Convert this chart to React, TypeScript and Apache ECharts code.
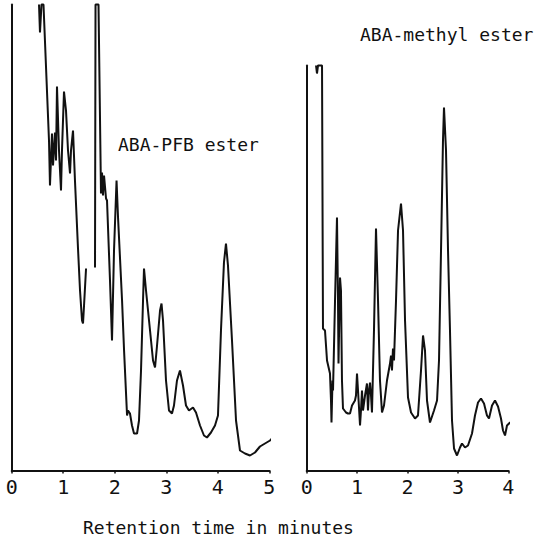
import React, { useEffect, useRef } from "react";
import * as echarts from "echarts";

// Left chromatogram: ABA-PFB ester (retention time in min, detector signal in arbitrary units; 466 = off-scale)
const leftTime: (number | null)[] = [
  0.53, 0.549, 0.578, 0.617, 0.627, 0.724, 0.743, 0.782, 0.802, 0.84, 0.86, 0.879, 0.918, 0.957, 0.976,
  1.015, 1.054, 1.093, 1.132, 1.151, 1.19, 1.228, 1.287, 1.326, 1.365, 1.384, 1.404, 1.443,
  1.53,
  1.617, 1.627, 1.685, 1.733, 1.753, 1.772, 1.792, 1.831, 1.85, 1.908, 1.947, 1.986, 2.035, 2.064,
  2.142, 2.181, 2.239, 2.258, 2.296, 2.335, 2.374, 2.433, 2.471, 2.51, 2.549, 2.568, 2.607, 2.685,
  2.743, 2.782, 2.821, 2.879, 2.908, 2.937, 2.995, 3.053, 3.111, 3.15, 3.208, 3.266, 3.325, 3.383,
  3.441, 3.519, 3.577, 3.655, 3.732, 3.79, 3.868, 3.946, 4.004, 4.062, 4.12, 4.159, 4.198, 4.276,
  4.354, 4.431, 4.528, 4.625, 4.722, 4.819, 4.916, 5.014, 5.111,
];
const leftSignal: (number | null)[] = [
  466, 438, 466, 466, 466, 330, 285, 337, 305, 338, 310, 384, 320, 280, 320,
  379, 360, 320, 297, 320, 340, 290, 222, 180, 150, 147, 165, 202,
  null,
  203, 466, 466, 277, 298, 275, 295, 272, 270, 190, 130, 220, 290, 253,
  170, 120, 55, 60, 57, 45, 37, 37, 50, 100, 170, 202, 180, 140,
  110, 103, 125, 160, 167, 150, 90, 60, 57, 65, 90, 100, 85, 65,
  60, 63, 58, 45, 35, 33, 38, 45, 55, 140, 208, 227, 205, 130,
  50, 20, 17, 15, 18, 24, 27, 30, 35,
];

// Right chromatogram: ABA-methyl ester (405 = off-scale)
const rightTime: number[] = [
  0.185, 0.204, 0.224, 0.304, 0.323, 0.363, 0.403, 0.462, 0.482, 0.492, 0.512, 0.522, 0.562, 0.601,
  0.621, 0.631, 0.661, 0.68, 0.7, 0.72, 0.78, 0.819, 0.859, 0.899, 0.958, 0.978, 0.998, 1.018,
  1.058, 1.077, 1.097, 1.117, 1.157, 1.196, 1.216, 1.236, 1.256, 1.276, 1.295, 1.335, 1.375, 1.415,
  1.454, 1.494, 1.534, 1.593, 1.653, 1.673, 1.692, 1.712, 1.732, 1.772, 1.812, 1.871, 1.911, 1.951,
  2.01, 2.07, 2.149, 2.208, 2.268, 2.308, 2.347, 2.387, 2.446, 2.526, 2.586, 2.625, 2.665, 2.704,
  2.724, 2.764, 2.804, 2.843, 2.883, 2.923, 2.982, 3.042, 3.081, 3.141, 3.2, 3.28, 3.339, 3.399,
  3.458, 3.518, 3.577, 3.617, 3.677, 3.736, 3.796, 3.855, 3.895, 3.935, 3.974, 4.034, 4.093, 4.153,
];
const rightSignal: number[] = [
  405, 397, 405, 405, 142, 140, 110, 97, 70, 48, 90, 80, 170, 253,
  170, 107, 193, 180, 90, 62, 58, 57, 57, 65, 70, 75, 97, 80,
  45, 60, 80, 60, 75, 87, 60, 80, 88, 75, 58, 140, 242, 170,
  90, 58, 65, 90, 107, 115, 100, 122, 110, 170, 240, 267, 240, 150,
  73, 58, 52, 55, 100, 135, 120, 70, 48, 60, 70, 110, 220, 330,
  363, 320, 220, 140, 50, 22, 15, 23, 27, 23, 25, 37, 55, 68,
  72, 67, 55, 52, 65, 70, 64, 52, 40, 35, 45, 48, 45, 42,
];

const leftTicks = [0, 1, 2, 3, 4, 5];
const rightTicks = [0, 1, 2, 3, 4];

const FONT = "DejaVu Sans Mono";
const INK = "#111";

export default function App() {
  const ref = useRef<HTMLDivElement>(null);

  useEffect(() => {
    if (!ref.current) return;
    const chart = echarts.init(ref.current, undefined, { renderer: "svg" });

    const leftData = leftTime.map((t, i) => (t === null || leftSignal[i] === null ? [null, null] : [t, leftSignal[i]]));
    const rightData = rightTime.map((t, i) => [t, rightSignal[i]]);

    const xAxisBase = (ticks: number[], gridIndex: number) => ({
      type: "value" as const,
      gridIndex,
      min: ticks[0],
      max: ticks[ticks.length - 1],
      interval: 1,
      axisLine: { show: true, lineStyle: { color: INK, width: 2 } },
      axisTick: { show: true, length: 3, inside: false, lineStyle: { color: INK, width: 1.5 } },
      axisLabel: { show: true, fontFamily: FONT, fontSize: 20, color: INK, margin: 6 },
      splitLine: { show: false },
    });
    const yAxisBase = (max: number, gridIndex: number) => ({
      type: "value" as const,
      gridIndex,
      min: 0,
      max,
      axisLine: { show: true, lineStyle: { color: INK, width: 2 } },
      axisTick: { show: false },
      axisLabel: { show: false },
      splitLine: { show: false },
    });

    chart.setOption({
      animation: false,
      backgroundColor: "#fff",
      grid: [
        { left: 11.7, top: 4.5, width: 257.6, height: 466 },
        { left: 306.7, top: 65.5, width: 201.6, height: 405 },
      ],
      xAxis: [xAxisBase(leftTicks, 0), xAxisBase(rightTicks, 1)],
      yAxis: [yAxisBase(466, 0), yAxisBase(405, 1)],
      series: [
        {
          type: "line",
          xAxisIndex: 0,
          yAxisIndex: 0,
          data: leftData,
          showSymbol: false,
          connectNulls: false,
          clip: false,
          lineStyle: { color: INK, width: 2 },
        },
        {
          type: "line",
          xAxisIndex: 1,
          yAxisIndex: 1,
          data: rightData,
          showSymbol: false,
          clip: false,
          lineStyle: { color: INK, width: 2 },
        },
      ],
      graphic: [
        {
          type: "text",
          left: 118,
          top: 135,
          style: { text: "ABA-PFB ester", font: `18px "${FONT}"`, fill: INK },
        },
        {
          type: "text",
          left: 360,
          top: 25,
          style: { text: "ABA-methyl ester", font: `18px "${FONT}"`, fill: INK },
        },
        {
          type: "text",
          left: 83,
          top: 518,
          style: { text: "Retention time in minutes", font: `18px "${FONT}"`, fill: INK },
        },
      ],
    });

    return () => chart.dispose();
  }, []);

  return <div ref={ref} style={{ width: 535, height: 544, position: "absolute", left: 0, top: 0 }} />;
}
